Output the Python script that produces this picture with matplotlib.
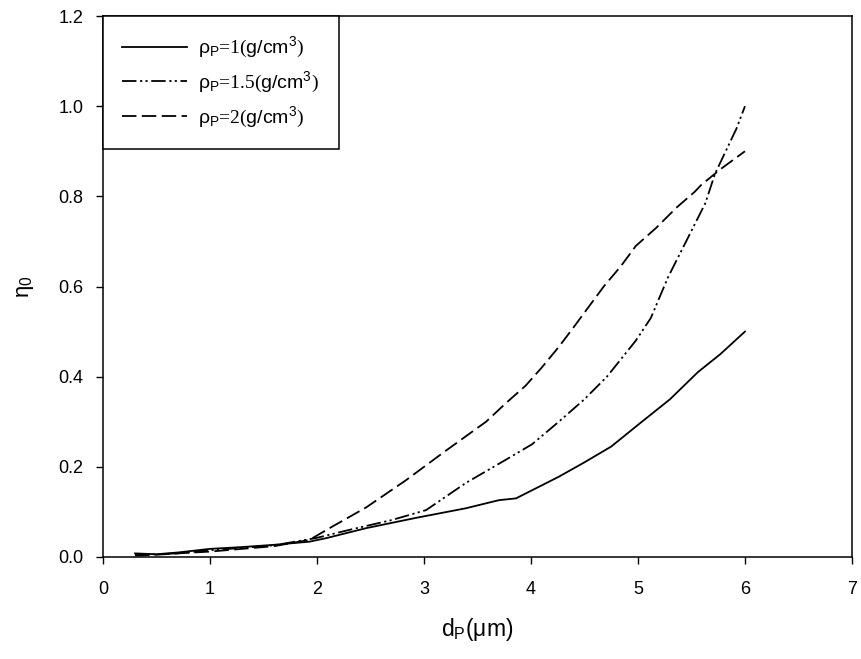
import matplotlib.pyplot as plt
import numpy as np

plt.rcParams['font.family'] = ['Liberation Sans', 'DejaVu Sans']
plt.rcParams['mathtext.fontset'] = 'custom'
plt.rcParams['mathtext.rm'] = 'Liberation Sans'
plt.rcParams['mathtext.it'] = 'Liberation Sans'

# rho_P = 1 g/cm3
x1 = [0.3, 0.5, 0.7, 1.0, 1.3, 1.6, 1.93, 2.09, 2.46, 2.93, 3.39, 3.70, 3.86,
      4.26, 4.5, 4.75, 5.0, 5.3, 5.56, 5.77, 6.0]
y1 = [0.008, 0.006, 0.010, 0.018, 0.022, 0.027, 0.034, 0.042, 0.064, 0.087,
      0.108, 0.126, 0.130, 0.178, 0.21, 0.245, 0.293, 0.35, 0.41, 0.45, 0.50]

# rho_P = 1.5 g/cm3
x2 = [0.3, 0.5, 0.7, 1.0, 1.3, 1.6, 1.99, 2.30, 2.70, 3.02, 3.39, 3.76, 4.01,
      4.26, 4.5, 4.71, 4.98, 5.12, 5.28, 5.45, 5.63, 5.72, 5.82, 5.92, 6.0]
y2 = [0.005, 0.006, 0.008, 0.015, 0.020, 0.026, 0.042, 0.060, 0.082, 0.104,
      0.164, 0.215, 0.25, 0.30, 0.35, 0.40, 0.48, 0.53, 0.62, 0.70, 0.785,
      0.85, 0.90, 0.95, 1.00]

# rho_P = 2 g/cm3
x3 = [0.3, 0.5, 0.7, 1.0, 1.3, 1.6, 1.93, 2.14, 2.46, 2.83, 3.20, 3.58, 3.76,
      3.95, 4.10, 4.26, 4.40, 4.54, 4.68, 4.84, 4.98, 5.17, 5.36, 5.53, 5.59,
      5.77, 6.0]
y3 = [0.003, 0.005, 0.008, 0.012, 0.018, 0.024, 0.038, 0.067, 0.11, 0.17,
      0.235, 0.30, 0.34, 0.38, 0.42, 0.466, 0.51, 0.555, 0.60, 0.645, 0.69,
      0.73, 0.775, 0.81, 0.825, 0.86, 0.90]

labels = [r'$\rho_P$=1($\mathrm{g/cm}$$^3$)',
          r'$\rho_P$=1.5($\mathrm{g/cm}$$^3$)',
          r'$\rho_P$=2($\mathrm{g/cm}$$^3$)']

fig = plt.figure(figsize=(8.61, 6.59), dpi=100)
ax = fig.add_axes([0.1196, 0.1548, 0.8699, 0.8209])

ax.plot(x1, y1, color='black', lw=1.3, ls='-', label=labels[0])
ax.plot(x2, y2, color='black', lw=1.3, ls=(0, (8, 2, 1.2, 1.8, 1.2, 2)), label=labels[1])
ax.plot(x3, y3, color='black', lw=1.3, ls=(0, (8, 3)), label=labels[2])

ax.set_xlim(0, 7)
ax.set_ylim(0, 1.2)
ax.set_xticks(range(0, 8))
ax.set_yticks(np.arange(0, 1.21, 0.2))
ax.yaxis.set_major_formatter(plt.FormatStrFormatter('%.1f'))
ax.tick_params(direction='out', length=5, width=1, labelsize=13)
ax.tick_params(axis='x', pad=12)
ax.tick_params(axis='y', pad=9)
for s in ax.spines.values():
    s.set_linewidth(1.1)

ax.set_xlabel(r'd$_P$($\mu$m)', fontsize=16.5, labelpad=13)
ax.set_ylabel(r'$\eta_0$', fontsize=16, labelpad=16)

leg = ax.legend(loc='upper left', bbox_to_anchor=(0, 1), borderaxespad=0,
                fancybox=False, edgecolor='black', framealpha=1,
                prop={'family': 'Liberation Serif', 'size': 14},
                handlelength=3.3, handletextpad=0.6, labelspacing=0.5,
                borderpad=1.0)
leg.get_frame().set_linewidth(1.1)

fig.savefig('out.png', dpi=100)
